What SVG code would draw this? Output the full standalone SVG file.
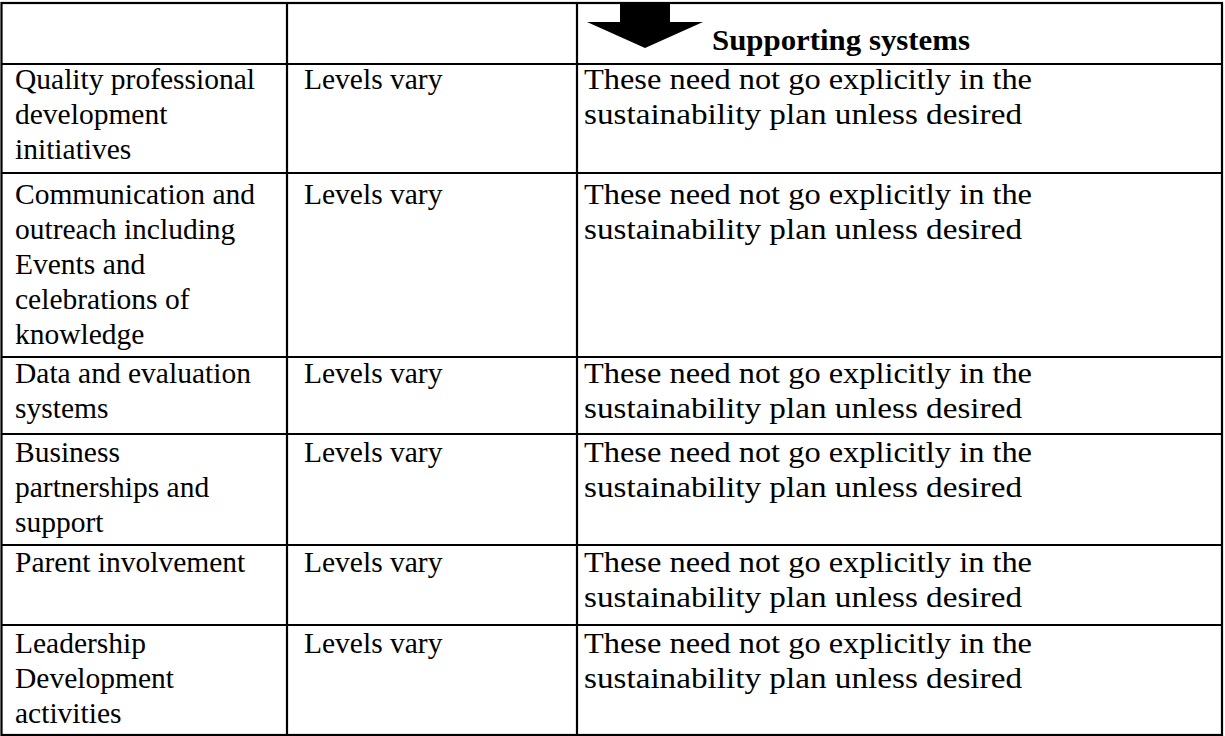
<svg xmlns="http://www.w3.org/2000/svg" width="1225" height="736" viewBox="0 0 1225 736">
<style>
  .grid { stroke: #000; stroke-width: 2.2; fill: none; }
  .t { font-family: "Liberation Serif", "Times New Roman", serif; font-size: 29.5px; fill: #000; }
  .c3 { font-family: "Liberation Serif", "Times New Roman", serif; font-size: 30px; fill: #000; }
  .h { font-family: "Liberation Serif", "Times New Roman", serif; font-size: 30px; font-weight: bold; fill: #000; }
</style>
<rect width="1225" height="736" fill="#fff"/>
<g id="grid">
  <rect class="grid" x="1.5" y="3" width="1220.5" height="732"/>
  <line class="grid" x1="287" y1="3" x2="287" y2="735"/>
  <line class="grid" x1="577" y1="3" x2="577" y2="735"/>
  <line class="grid" x1="1.5" y1="64" x2="1222" y2="64"/>
  <line class="grid" x1="1.5" y1="173" x2="1222" y2="173"/>
  <line class="grid" x1="1.5" y1="357" x2="1222" y2="357"/>
  <line class="grid" x1="1.5" y1="434" x2="1222" y2="434"/>
  <line class="grid" x1="1.5" y1="545" x2="1222" y2="545"/>
  <line class="grid" x1="1.5" y1="625" x2="1222" y2="625"/>
</g>
<g id="header">
  <polygon points="620,3 670,3 670,22 703,22 645,48 587,22 620,22" fill="#000"/>
  <text class="h" x="712" y="50" textLength="258" lengthAdjust="spacingAndGlyphs">Supporting systems</text>
</g>
<g id="row1">
  <text class="t" x="15" y="89">Quality professional</text>
  <text class="t" x="15" y="124">development</text>
  <text class="t" x="15" y="159">initiatives</text>
  <text class="t" x="304" y="89">Levels vary</text>
  <text class="c3" x="584" y="89" textLength="448" lengthAdjust="spacingAndGlyphs">These need not go explicitly in the</text>
  <text class="c3" x="584" y="124" textLength="438" lengthAdjust="spacingAndGlyphs">sustainability plan unless desired</text>
</g>
<g id="row2">
  <text class="t" x="15" y="204">Communication and</text>
  <text class="t" x="15" y="239">outreach including</text>
  <text class="t" x="15" y="274">Events and</text>
  <text class="t" x="15" y="309">celebrations of</text>
  <text class="t" x="15" y="344">knowledge</text>
  <text class="t" x="304" y="204">Levels vary</text>
  <text class="c3" x="584" y="204" textLength="448" lengthAdjust="spacingAndGlyphs">These need not go explicitly in the</text>
  <text class="c3" x="584" y="239" textLength="438" lengthAdjust="spacingAndGlyphs">sustainability plan unless desired</text>
</g>
<g id="row3">
  <text class="t" x="15" y="383">Data and evaluation</text>
  <text class="t" x="15" y="418">systems</text>
  <text class="t" x="304" y="383">Levels vary</text>
  <text class="c3" x="584" y="383" textLength="448" lengthAdjust="spacingAndGlyphs">These need not go explicitly in the</text>
  <text class="c3" x="584" y="418" textLength="438" lengthAdjust="spacingAndGlyphs">sustainability plan unless desired</text>
</g>
<g id="row4">
  <text class="t" x="15" y="462">Business</text>
  <text class="t" x="15" y="497">partnerships and</text>
  <text class="t" x="15" y="532">support</text>
  <text class="t" x="304" y="462">Levels vary</text>
  <text class="c3" x="584" y="462" textLength="448" lengthAdjust="spacingAndGlyphs">These need not go explicitly in the</text>
  <text class="c3" x="584" y="497" textLength="438" lengthAdjust="spacingAndGlyphs">sustainability plan unless desired</text>
</g>
<g id="row5">
  <text class="t" x="15" y="572">Parent involvement</text>
  <text class="t" x="304" y="572">Levels vary</text>
  <text class="c3" x="584" y="572" textLength="448" lengthAdjust="spacingAndGlyphs">These need not go explicitly in the</text>
  <text class="c3" x="584" y="607" textLength="438" lengthAdjust="spacingAndGlyphs">sustainability plan unless desired</text>
</g>
<g id="row6">
  <text class="t" x="15" y="653">Leadership</text>
  <text class="t" x="15" y="688">Development</text>
  <text class="t" x="15" y="723">activities</text>
  <text class="t" x="304" y="653">Levels vary</text>
  <text class="c3" x="584" y="653" textLength="448" lengthAdjust="spacingAndGlyphs">These need not go explicitly in the</text>
  <text class="c3" x="584" y="688" textLength="438" lengthAdjust="spacingAndGlyphs">sustainability plan unless desired</text>
</g>
</svg>
